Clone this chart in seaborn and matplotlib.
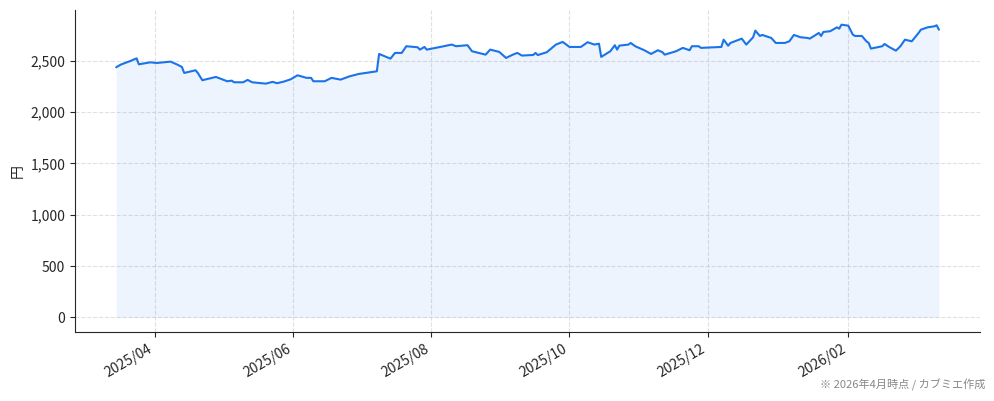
### 株価推移チャート (カブミエ風)
import pandas as pd
import numpy as np
import matplotlib
matplotlib.use('Agg')
import matplotlib.pyplot as plt
import matplotlib.dates as mdates
from matplotlib.ticker import FuncFormatter
import seaborn as sns

# 終値データ
dates = [
    '2025-03-15', '2025-03-17', '2025-03-21', '2025-03-24', '2025-03-25', '2025-03-30',
    '2025-04-02', '2025-04-08', '2025-04-11', '2025-04-13', '2025-04-14', '2025-04-19',
    '2025-04-20', '2025-04-22', '2025-04-28', '2025-05-03', '2025-05-05', '2025-05-06',
    '2025-05-10', '2025-05-12', '2025-05-14', '2025-05-20', '2025-05-23', '2025-05-25',
    '2025-05-28', '2025-05-31', '2025-06-03', '2025-06-07', '2025-06-09', '2025-06-10',
    '2025-06-15', '2025-06-18', '2025-06-22', '2025-06-26', '2025-06-30', '2025-07-03',
    '2025-07-08', '2025-07-09', '2025-07-14', '2025-07-16', '2025-07-19', '2025-07-21',
    '2025-07-26', '2025-07-27', '2025-07-29', '2025-07-30', '2025-08-05', '2025-08-10',
    '2025-08-12', '2025-08-17', '2025-08-19', '2025-08-25', '2025-08-27', '2025-08-31',
    '2025-09-03', '2025-09-06', '2025-09-08', '2025-09-10', '2025-09-15', '2025-09-16',
    '2025-09-17', '2025-09-21', '2025-09-25', '2025-09-28', '2025-10-01', '2025-10-06',
    '2025-10-09', '2025-10-12', '2025-10-14', '2025-10-15', '2025-10-19', '2025-10-21',
    '2025-10-22', '2025-10-23', '2025-10-27', '2025-10-28', '2025-10-30', '2025-11-03',
    '2025-11-06', '2025-11-09', '2025-11-11', '2025-11-12', '2025-11-17', '2025-11-20',
    '2025-11-23', '2025-11-24', '2025-11-27', '2025-11-28', '2025-12-07', '2025-12-08',
    '2025-12-10', '2025-12-11', '2025-12-16', '2025-12-18', '2025-12-21', '2025-12-22',
    '2025-12-24', '2025-12-25', '2025-12-29', '2025-12-31', '2026-01-04', '2026-01-06',
    '2026-01-08', '2026-01-11', '2026-01-14', '2026-01-15', '2026-01-19', '2026-01-20',
    '2026-01-21', '2026-01-24', '2026-01-27', '2026-01-28', '2026-01-29', '2026-02-01',
    '2026-02-03', '2026-02-04', '2026-02-07', '2026-02-09', '2026-02-10', '2026-02-11',
    '2026-02-16', '2026-02-17', '2026-02-19', '2026-02-22', '2026-02-24', '2026-02-26',
    '2026-03-01', '2026-03-04', '2026-03-05', '2026-03-08', '2026-03-11', '2026-03-12',
    '2026-03-13',
]
prices = [
    2435, 2461, 2494, 2522, 2464, 2483,
    2477, 2490, 2461, 2438, 2380, 2406,
    2380, 2309, 2341, 2299, 2305, 2289,
    2289, 2312, 2289, 2276, 2293, 2280,
    2296, 2318, 2357, 2332, 2332, 2299,
    2299, 2332, 2315, 2347, 2370, 2380,
    2396, 2565, 2519, 2575, 2575, 2640,
    2630, 2607, 2633, 2607, 2633, 2656,
    2640, 2650, 2591, 2558, 2607, 2585,
    2526, 2558, 2575, 2549, 2555, 2575,
    2554, 2582, 2656, 2682, 2633, 2633,
    2679, 2656, 2665, 2536, 2591, 2650,
    2607, 2646, 2656, 2672, 2640, 2601,
    2565, 2601, 2582, 2558, 2591, 2624,
    2601, 2640, 2640, 2624, 2633, 2704,
    2645, 2672, 2714, 2656, 2727, 2792,
    2740, 2750, 2721, 2672, 2672, 2688,
    2750, 2727, 2721, 2714, 2769, 2740,
    2779, 2786, 2824, 2811, 2850, 2840,
    2753, 2740, 2740, 2688, 2672, 2617,
    2640, 2662, 2633, 2597, 2640, 2704,
    2688, 2769, 2801, 2824, 2834, 2844,
    2801,
]

df = pd.DataFrame({'date': pd.to_datetime(dates), 'price': prices})

sns.set_style('ticks')
plt.rcParams['font.family'] = ['Noto Sans CJK JP', 'DejaVu Sans']

line_color = '#1a73e8'

fig, ax = plt.subplots(figsize=(9.94, 4.01), dpi=100)
fig.subplots_adjust(left=0.0755, right=0.986, top=0.975, bottom=0.172)

sns.lineplot(data=df, x='date', y='price', ax=ax, color=line_color, linewidth=1.5)
ax.fill_between(df['date'], df['price'], 0, color=line_color, alpha=0.08, linewidth=0)

# 軸の体裁
ax.set_xlabel('')
ax.set_ylabel('円', fontsize=10)
ax.yaxis.set_major_formatter(FuncFormatter(lambda v, p: f'{int(v):,}'))
ax.xaxis.set_major_locator(mdates.MonthLocator(bymonth=[2, 4, 6, 8, 10, 12]))
ax.xaxis.set_major_formatter(mdates.DateFormatter('%Y/%m'))
ax.tick_params(axis='both', labelsize=10)
plt.setp(ax.get_xticklabels(), rotation=30, ha='right')

ax.grid(True, linestyle='--', color='#dddddd', linewidth=0.8, alpha=0.9)
sns.despine(ax=ax)

fig.text(0.991, 0.025, '※ 2026年4月時点 / カブミエ作成', ha='right', va='bottom',
         fontsize=8, color='#888888')

fig.savefig('out.png', dpi=100)
plt.close()
